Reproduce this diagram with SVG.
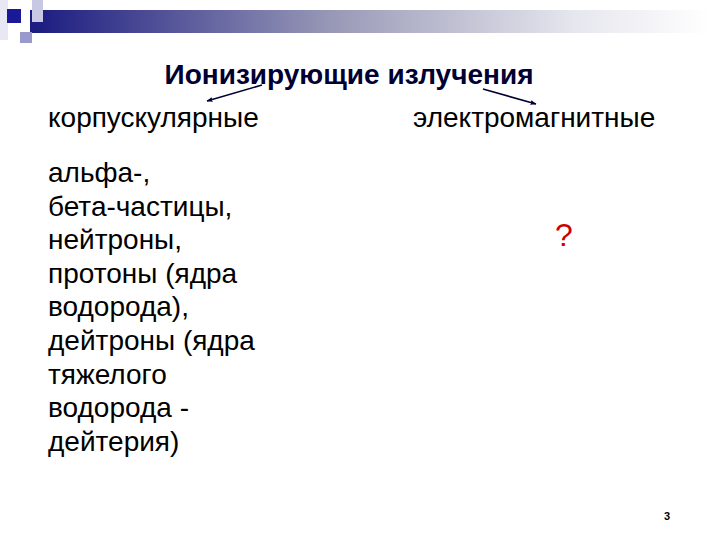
<svg xmlns="http://www.w3.org/2000/svg" width="720" height="540" viewBox="0 0 720 540">
<defs>
<linearGradient id="bar" x1="0" y1="0" x2="1" y2="0">
<stop offset="0" stop-color="#1a1a80"/>
<stop offset="0.45" stop-color="#9a9ab8"/>
<stop offset="0.8" stop-color="#e6e6ee"/>
<stop offset="1" stop-color="#ffffff"/>
</linearGradient>
<marker id="ah" viewBox="0 0 10 10" refX="9" refY="5" markerWidth="6" markerHeight="6" orient="auto" markerUnits="userSpaceOnUse">
<path d="M0,1 L10,5 L0,9 z" fill="#000033"/>
</marker>
<style>
.t{font-family:"Liberation Sans",Arial,sans-serif;font-size:28px;fill:#000}
.title{font-family:"Liberation Sans",Arial,sans-serif;font-size:28px;font-weight:bold;fill:#000033}
.conn{stroke:#000033;stroke-width:1.6;fill:none;marker-end:url(#ah)}
</style>
</defs>
<rect width="720" height="540" fill="#fff"/>
<g id="decor">
<rect x="0" y="0" width="8" height="40" fill="#e8e8f4"/>
<rect x="30" y="10" width="680" height="23" fill="url(#bar)"/>
<rect x="32" y="0" width="11" height="22" fill="#c8c8e4"/>
<rect x="7" y="9" width="14" height="14" fill="#1a1a99"/>
<rect x="20" y="32" width="12" height="11" fill="#9999cc"/>
</g>
<g id="title"><text class="title" x="349" y="84" text-anchor="middle">Ионизирующие излучения</text></g>
<g id="corpuscular"><text class="t" x="48" y="127">корпускулярные</text></g>
<g id="em"><text class="t" x="413" y="127">электромагнитные</text></g>
<g id="list">
<text class="t" x="48" y="182">альфа-,</text>
<text class="t" x="48" y="216">бета-частицы,</text>
<text class="t" x="48" y="249">нейтроны,</text>
<text class="t" x="48" y="283">протоны (ядра</text>
<text class="t" x="48" y="316">водорода),</text>
<text class="t" x="48" y="350">дейтроны (ядра</text>
<text class="t" x="48" y="384">тяжелого</text>
<text class="t" x="48" y="417">водорода -</text>
<text class="t" x="48" y="451">дейтерия)</text>
</g>
<g id="question"><text x="555" y="246" font-family="Liberation Sans,Arial,sans-serif" font-size="32" fill="#cc0000">?</text></g>
<g id="page"><text x="664" y="520" font-family="Liberation Sans,Arial,sans-serif" font-size="11" font-weight="bold" fill="#000">3</text></g>
<g id="connectors">
<line class="conn" x1="262" y1="85" x2="207" y2="101"/>
<line class="conn" x1="483" y1="89" x2="536" y2="104"/>
</g>
</svg>
